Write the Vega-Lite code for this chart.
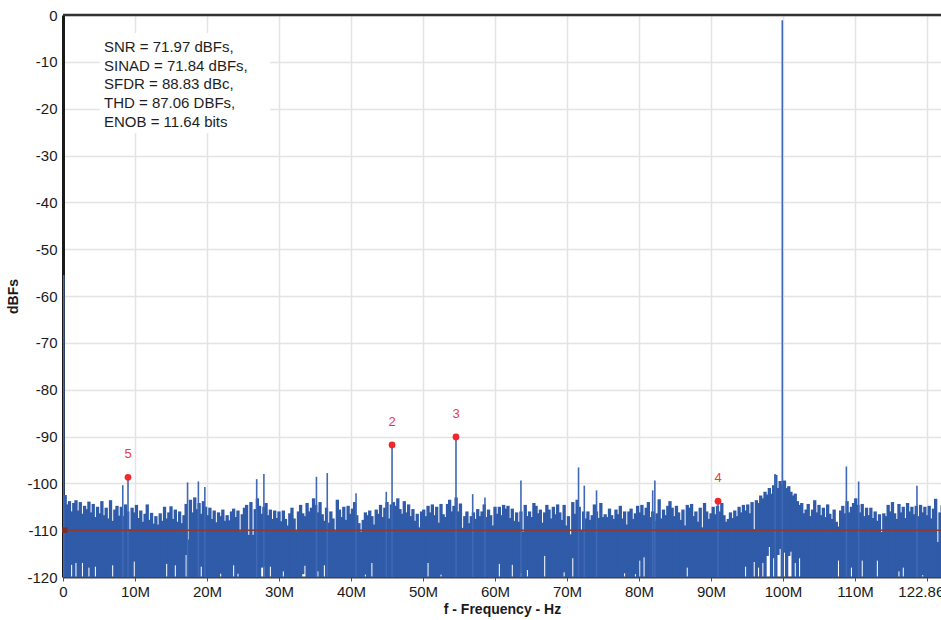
{
"$schema": "https://vega.github.io/schema/vega-lite/v6.json",
"width": 878, "height": 562,
"autosize": {"type": "none"},
"padding": {"left": 63, "top": 15, "right": 0, "bottom": 43},
"background": "white",
"config": {
  "font": "Liberation Sans",
  "view": {"stroke": null},
  "axis": {"gridColor": "#e4e4e4", "gridWidth": 1.5, "labelColor": "#1a1a1a", "titleColor": "#1a1a1a", "labelFont": "Liberation Sans", "titleFont": "Liberation Sans"}
},
"datasets": {
"noise": [
{"f":0.3,"v":-102.5,"lo":-120},{"f":0.6,"v":-104.5,"lo":-120},{"f":0.9,"v":-103.8,"lo":-120},{"f":1.2,"v":-106.0,"lo":-117.4},{"f":1.5,"v":-104.2,"lo":-120},{"f":1.8,"v":-103.6,"lo":-117.0},{"f":2.1,"v":-105.8,"lo":-120},{"f":2.4,"v":-104.0,"lo":-120},{"f":2.7,"v":-106.5,"lo":-117.0},{"f":3.0,"v":-104.8,"lo":-120},
{"f":3.3,"v":-105.5,"lo":-120},{"f":3.6,"v":-103.9,"lo":-118},{"f":3.9,"v":-106.2,"lo":-120},{"f":4.2,"v":-104.4,"lo":-120},{"f":4.5,"v":-107.2,"lo":-117.8},{"f":4.8,"v":-105.0,"lo":-120},{"f":5.1,"v":-106.4,"lo":-120},{"f":5.4,"v":-103.8,"lo":-120},{"f":5.7,"v":-106.8,"lo":-120},{"f":6.0,"v":-105.2,"lo":-120},
{"f":6.3,"v":-107.5,"lo":-120},{"f":6.6,"v":-103.6,"lo":-120},{"f":6.9,"v":-108.0,"lo":-117.5},{"f":7.2,"v":-105.6,"lo":-120},{"f":7.5,"v":-104.8,"lo":-120},{"f":7.8,"v":-106.9,"lo":-120},{"f":8.1,"v":-105.0,"lo":-120},{"f":8.4,"v":-107.0,"lo":-120},{"f":8.7,"v":-104.5,"lo":-120},{"f":9.0,"v":-106.0,"lo":-120},
{"f":9.3,"v":-109.8,"lo":-120},{"f":9.6,"v":-105.2,"lo":-120},{"f":9.9,"v":-106.2,"lo":-116.7},{"f":10.2,"v":-104.6,"lo":-120},{"f":10.5,"v":-107.4,"lo":-120},{"f":10.8,"v":-105.8,"lo":-120},{"f":11.1,"v":-108.2,"lo":-120},{"f":11.4,"v":-106.5,"lo":-120},{"f":11.7,"v":-104.5,"lo":-120},{"f":12.0,"v":-107.8,"lo":-120},
{"f":12.3,"v":-106.3,"lo":-120},{"f":12.6,"v":-108.6,"lo":-120},{"f":12.9,"v":-107.0,"lo":-120},{"f":13.2,"v":-108.8,"lo":-120},{"f":13.5,"v":-106.4,"lo":-120},{"f":13.8,"v":-108.0,"lo":-120},{"f":14.1,"v":-105.0,"lo":-120},{"f":14.4,"v":-107.5,"lo":-117.2},{"f":14.7,"v":-106.2,"lo":-120},{"f":15.0,"v":-104.9,"lo":-120},
{"f":15.3,"v":-107.6,"lo":-120},{"f":15.6,"v":-105.6,"lo":-117.5},{"f":15.9,"v":-108.2,"lo":-120},{"f":16.2,"v":-106.0,"lo":-120},{"f":16.5,"v":-108.5,"lo":-120},{"f":16.8,"v":-106.8,"lo":-120},{"f":17.1,"v":-104.4,"lo":-115.3},{"f":17.4,"v":-112.0,"lo":-120},{"f":17.7,"v":-103.5,"lo":-120},{"f":18.0,"v":-106.2,"lo":-120},
{"f":18.3,"v":-103.0,"lo":-120},{"f":18.6,"v":-105.5,"lo":-120},{"f":18.9,"v":-104.2,"lo":-120},{"f":19.2,"v":-106.5,"lo":-117.8},{"f":19.5,"v":-103.8,"lo":-120},{"f":19.8,"v":-105.0,"lo":-120},{"f":20.1,"v":-106.8,"lo":-120},{"f":20.4,"v":-105.2,"lo":-120},{"f":20.7,"v":-107.6,"lo":-120},{"f":21.0,"v":-105.8,"lo":-120},
{"f":21.3,"v":-108.3,"lo":-120},{"f":21.6,"v":-106.2,"lo":-120},{"f":21.9,"v":-107.0,"lo":-119.3},{"f":22.2,"v":-105.6,"lo":-120},{"f":22.5,"v":-108.0,"lo":-120},{"f":22.8,"v":-106.8,"lo":-120},{"f":23.1,"v":-107.9,"lo":-120},{"f":23.4,"v":-106.0,"lo":-120},{"f":23.7,"v":-105.4,"lo":-117.5},{"f":24.0,"v":-107.2,"lo":-120},
{"f":24.3,"v":-105.8,"lo":-119.3},{"f":24.6,"v":-110.2,"lo":-120},{"f":24.9,"v":-106.6,"lo":-120},{"f":25.2,"v":-105.2,"lo":-120},{"f":25.5,"v":-104.6,"lo":-120},{"f":25.8,"v":-111.0,"lo":-120},{"f":26.1,"v":-104.0,"lo":-120},{"f":26.4,"v":-111.0,"lo":-120},{"f":26.7,"v":-105.5,"lo":-120},{"f":27.0,"v":-103.2,"lo":-120},
{"f":27.3,"v":-104.8,"lo":-120},{"f":27.6,"v":-106.5,"lo":-118},{"f":27.9,"v":-105.0,"lo":-117.8},{"f":28.2,"v":-104.2,"lo":-120},{"f":28.5,"v":-106.8,"lo":-120},{"f":28.8,"v":-105.6,"lo":-117.8},{"f":29.1,"v":-107.6,"lo":-120},{"f":29.4,"v":-105.8,"lo":-120},{"f":29.7,"v":-107.4,"lo":-120},{"f":30.0,"v":-106.0,"lo":-120},
{"f":30.3,"v":-108.1,"lo":-120},{"f":30.6,"v":-105.8,"lo":-118.8},{"f":30.9,"v":-107.6,"lo":-120},{"f":31.2,"v":-109.0,"lo":-120},{"f":31.5,"v":-106.4,"lo":-120},{"f":31.8,"v":-105.2,"lo":-120},{"f":32.1,"v":-107.5,"lo":-120},{"f":32.4,"v":-110.2,"lo":-120},{"f":32.7,"v":-106.0,"lo":-120},{"f":33.0,"v":-104.6,"lo":-120},
{"f":33.3,"v":-106.4,"lo":-119.4},{"f":33.6,"v":-107.0,"lo":-117.6},{"f":33.9,"v":-104.2,"lo":-120},{"f":34.2,"v":-106.0,"lo":-120},{"f":34.5,"v":-105.2,"lo":-120},{"f":34.8,"v":-103.2,"lo":-120},{"f":35.1,"v":-104.6,"lo":-120},{"f":35.4,"v":-106.2,"lo":-118.8},{"f":35.7,"v":-104.0,"lo":-120},{"f":36.0,"v":-106.6,"lo":-120},
{"f":36.3,"v":-108.0,"lo":-117.5},{"f":36.6,"v":-105.2,"lo":-120},{"f":36.9,"v":-108.4,"lo":-120},{"f":37.2,"v":-106.0,"lo":-120},{"f":37.5,"v":-107.5,"lo":-120},{"f":37.8,"v":-110.2,"lo":-120},{"f":38.1,"v":-103.5,"lo":-120},{"f":38.4,"v":-105.6,"lo":-120},{"f":38.7,"v":-107.2,"lo":-120},{"f":39.0,"v":-105.0,"lo":-120},
{"f":39.3,"v":-107.8,"lo":-120},{"f":39.6,"v":-104.8,"lo":-120},{"f":39.9,"v":-106.5,"lo":-120},{"f":40.2,"v":-105.4,"lo":-120},{"f":40.5,"v":-104.0,"lo":-120},{"f":40.8,"v":-106.8,"lo":-120},{"f":41.1,"v":-108.5,"lo":-120},{"f":41.4,"v":-110.3,"lo":-120},{"f":41.7,"v":-107.8,"lo":-120},{"f":42.0,"v":-106.2,"lo":-119.5},
{"f":42.3,"v":-106.8,"lo":-120},{"f":42.6,"v":-105.8,"lo":-120},{"f":42.9,"v":-107.0,"lo":-117.0},{"f":43.2,"v":-108.8,"lo":-120},{"f":43.5,"v":-105.6,"lo":-120},{"f":43.8,"v":-106.5,"lo":-120},{"f":44.1,"v":-104.6,"lo":-120},{"f":44.4,"v":-107.2,"lo":-120},{"f":44.7,"v":-105.2,"lo":-120},{"f":45.0,"v":-104.0,"lo":-120},
{"f":45.3,"v":-107.5,"lo":-120},{"f":45.6,"v":-104.5,"lo":-120},{"f":45.9,"v":-104.0,"lo":-120},{"f":46.2,"v":-104.8,"lo":-120},{"f":46.5,"v":-103.2,"lo":-120},{"f":46.8,"v":-105.5,"lo":-120},{"f":47.1,"v":-106.5,"lo":-120},{"f":47.4,"v":-103.8,"lo":-120},{"f":47.7,"v":-106.2,"lo":-120},{"f":48.0,"v":-104.5,"lo":-120},
{"f":48.3,"v":-107.0,"lo":-120},{"f":48.6,"v":-105.5,"lo":-120},{"f":48.9,"v":-108.0,"lo":-120},{"f":49.2,"v":-106.5,"lo":-120},{"f":49.5,"v":-109.4,"lo":-120},{"f":49.8,"v":-106.0,"lo":-120},{"f":50.1,"v":-105.6,"lo":-120},{"f":50.4,"v":-107.0,"lo":-120},{"f":50.7,"v":-104.8,"lo":-117.0},{"f":51.0,"v":-106.2,"lo":-120},
{"f":51.3,"v":-104.5,"lo":-120},{"f":51.6,"v":-106.8,"lo":-120},{"f":51.9,"v":-105.0,"lo":-120},{"f":52.2,"v":-108.4,"lo":-120},{"f":52.5,"v":-104.4,"lo":-119.5},{"f":52.8,"v":-106.6,"lo":-120},{"f":53.1,"v":-107.2,"lo":-120},{"f":53.4,"v":-104.4,"lo":-120},{"f":53.7,"v":-103.5,"lo":-120},{"f":54.0,"v":-106.0,"lo":-120},
{"f":54.3,"v":-104.8,"lo":-120},{"f":54.6,"v":-103.0,"lo":-120},{"f":54.9,"v":-106.0,"lo":-120},{"f":55.2,"v":-104.3,"lo":-120},{"f":55.5,"v":-109.5,"lo":-120},{"f":55.8,"v":-107.0,"lo":-120},{"f":56.1,"v":-106.0,"lo":-120},{"f":56.4,"v":-108.5,"lo":-120},{"f":56.7,"v":-107.0,"lo":-120},{"f":57.0,"v":-106.2,"lo":-120},
{"f":57.3,"v":-107.6,"lo":-120},{"f":57.6,"v":-105.5,"lo":-120},{"f":57.9,"v":-107.0,"lo":-120},{"f":58.2,"v":-106.0,"lo":-120},{"f":58.5,"v":-104.5,"lo":-120},{"f":58.8,"v":-107.2,"lo":-120},{"f":59.1,"v":-105.6,"lo":-120},{"f":59.4,"v":-106.8,"lo":-120},{"f":59.7,"v":-109.0,"lo":-120},{"f":60.0,"v":-105.0,"lo":-120},
{"f":60.3,"v":-106.5,"lo":-120},{"f":60.6,"v":-105.0,"lo":-117.2},{"f":60.9,"v":-106.8,"lo":-120},{"f":61.2,"v":-104.6,"lo":-120},{"f":61.5,"v":-105.4,"lo":-120},{"f":61.8,"v":-104.8,"lo":-120},{"f":62.1,"v":-107.4,"lo":-120},{"f":62.4,"v":-105.4,"lo":-117.4},{"f":62.7,"v":-108.0,"lo":-120},{"f":63.0,"v":-106.2,"lo":-120},
{"f":63.3,"v":-108.2,"lo":-120},{"f":63.6,"v":-106.0,"lo":-119.2},{"f":63.9,"v":-110.3,"lo":-120},{"f":64.2,"v":-104.6,"lo":-120},{"f":64.5,"v":-107.0,"lo":-118.5},{"f":64.8,"v":-106.0,"lo":-120},{"f":65.1,"v":-107.2,"lo":-120},{"f":65.4,"v":-104.2,"lo":-120},{"f":65.7,"v":-104.8,"lo":-120},{"f":66.0,"v":-106.4,"lo":-120},
{"f":66.3,"v":-105.6,"lo":-120},{"f":66.6,"v":-108.4,"lo":-120},{"f":66.9,"v":-106.2,"lo":-115.5},{"f":67.2,"v":-104.6,"lo":-120},{"f":67.5,"v":-105.6,"lo":-120},{"f":67.8,"v":-107.5,"lo":-120},{"f":68.1,"v":-105.0,"lo":-120},{"f":68.4,"v":-106.6,"lo":-120},{"f":68.7,"v":-104.5,"lo":-120},{"f":69.0,"v":-106.2,"lo":-120},
{"f":69.3,"v":-107.8,"lo":-120},{"f":69.6,"v":-104.6,"lo":-119.0},{"f":69.9,"v":-109.0,"lo":-120},{"f":70.2,"v":-107.0,"lo":-120},{"f":70.5,"v":-110.9,"lo":-120},{"f":70.8,"v":-104.0,"lo":-116.0},{"f":71.1,"v":-106.5,"lo":-120},{"f":71.4,"v":-103.5,"lo":-120},{"f":71.7,"v":-105.0,"lo":-120},{"f":72.0,"v":-110.0,"lo":-120},
{"f":72.3,"v":-106.0,"lo":-120},{"f":72.6,"v":-107.5,"lo":-120},{"f":72.9,"v":-106.0,"lo":-120},{"f":73.2,"v":-107.8,"lo":-120},{"f":73.5,"v":-106.8,"lo":-120},{"f":73.8,"v":-104.5,"lo":-120},{"f":74.1,"v":-106.0,"lo":-120},{"f":74.4,"v":-107.4,"lo":-120},{"f":74.7,"v":-104.2,"lo":-120},{"f":75.0,"v":-107.2,"lo":-120},
{"f":75.3,"v":-106.6,"lo":-120},{"f":75.6,"v":-107.2,"lo":-120},{"f":75.9,"v":-105.4,"lo":-120},{"f":76.2,"v":-106.8,"lo":-120},{"f":76.5,"v":-107.6,"lo":-120},{"f":76.8,"v":-105.6,"lo":-120},{"f":77.1,"v":-106.6,"lo":-120},{"f":77.4,"v":-104.8,"lo":-120},{"f":77.7,"v":-107.5,"lo":-120},{"f":78.0,"v":-106.0,"lo":-119.2},
{"f":78.3,"v":-108.8,"lo":-120},{"f":78.6,"v":-106.0,"lo":-120},{"f":78.9,"v":-105.4,"lo":-120},{"f":79.2,"v":-107.6,"lo":-120},{"f":79.5,"v":-106.4,"lo":-119.4},{"f":79.8,"v":-104.8,"lo":-120},{"f":80.1,"v":-106.2,"lo":-116.5},{"f":80.4,"v":-104.6,"lo":-120},{"f":80.7,"v":-106.8,"lo":-115.8},{"f":81.0,"v":-105.2,"lo":-120},
{"f":81.3,"v":-104.0,"lo":-120},{"f":81.6,"v":-107.2,"lo":-120},{"f":81.9,"v":-106.0,"lo":-120},{"f":82.2,"v":-108.0,"lo":-120},{"f":82.5,"v":-106.4,"lo":-120},{"f":82.8,"v":-103.4,"lo":-120},{"f":83.1,"v":-107.5,"lo":-120},{"f":83.4,"v":-105.6,"lo":-120},{"f":83.7,"v":-106.8,"lo":-120},{"f":84.0,"v":-104.8,"lo":-120},
{"f":84.3,"v":-103.8,"lo":-120},{"f":84.6,"v":-105.2,"lo":-120},{"f":84.9,"v":-107.0,"lo":-120},{"f":85.2,"v":-104.8,"lo":-120},{"f":85.5,"v":-106.2,"lo":-120},{"f":85.8,"v":-107.8,"lo":-120},{"f":86.1,"v":-105.6,"lo":-120},{"f":86.4,"v":-109.0,"lo":-120},{"f":86.7,"v":-104.6,"lo":-118.0},{"f":87.0,"v":-105.2,"lo":-120},
{"f":87.3,"v":-104.4,"lo":-120},{"f":87.6,"v":-107.0,"lo":-120},{"f":87.9,"v":-106.0,"lo":-120},{"f":88.2,"v":-108.2,"lo":-120},{"f":88.5,"v":-105.2,"lo":-120},{"f":88.8,"v":-109.4,"lo":-120},{"f":89.1,"v":-104.2,"lo":-120},{"f":89.4,"v":-106.0,"lo":-120},{"f":89.7,"v":-107.6,"lo":-120},{"f":90.0,"v":-106.4,"lo":-120},
{"f":90.3,"v":-105.0,"lo":-120},{"f":90.6,"v":-106.6,"lo":-120},{"f":90.9,"v":-104.8,"lo":-120},{"f":91.2,"v":-106.0,"lo":-120},{"f":91.5,"v":-104.2,"lo":-120},{"f":91.8,"v":-106.8,"lo":-120},{"f":92.1,"v":-108.2,"lo":-120},{"f":92.4,"v":-107.6,"lo":-120},{"f":92.7,"v":-106.2,"lo":-120},{"f":93.0,"v":-107.4,"lo":-120},
{"f":93.3,"v":-105.8,"lo":-120},{"f":93.6,"v":-107.0,"lo":-120},{"f":93.9,"v":-105.0,"lo":-120},{"f":94.2,"v":-106.2,"lo":-120},{"f":94.5,"v":-104.6,"lo":-120},{"f":94.8,"v":-105.8,"lo":-117.8},{"f":95.1,"v":-104.5,"lo":-120},{"f":95.4,"v":-106.4,"lo":-120},{"f":95.7,"v":-104.0,"lo":-120},{"f":96.0,"v":-109.8,"lo":-116.8},
{"f":96.3,"v":-103.6,"lo":-120},{"f":96.6,"v":-104.2,"lo":-118},{"f":96.9,"v":-102.6,"lo":-120},{"f":97.2,"v":-103.2,"lo":-117.0},{"f":97.5,"v":-101.8,"lo":-120},{"f":97.8,"v":-102.4,"lo":-115.5},{"f":98.1,"v":-101.0,"lo":-113.6},{"f":98.4,"v":-102.2,"lo":-120},{"f":98.7,"v":-100.4,"lo":-116.0},{"f":99.0,"v":-98.2,"lo":-120},
{"f":99.3,"v":-101.0,"lo":-115.3},{"f":99.6,"v":-99.5,"lo":-114.0},{"f":99.9,"v":-100.2,"lo":-120},{"f":100.2,"v":-99.4,"lo":-114.8},{"f":100.5,"v":-101.0,"lo":-120},{"f":100.8,"v":-100.6,"lo":-115.5},{"f":101.1,"v":-101.8,"lo":-114.6},{"f":101.4,"v":-102.6,"lo":-120},{"f":101.7,"v":-102.2,"lo":-117.0},{"f":102.0,"v":-103.8,"lo":-120},
{"f":102.3,"v":-104.6,"lo":-116.0},{"f":102.6,"v":-104.2,"lo":-120},{"f":102.9,"v":-106.4,"lo":-120},{"f":103.2,"v":-105.6,"lo":-120},{"f":103.5,"v":-104.4,"lo":-120},{"f":103.8,"v":-107.0,"lo":-120},{"f":104.1,"v":-105.6,"lo":-120},{"f":104.4,"v":-103.6,"lo":-120},{"f":104.7,"v":-106.2,"lo":-120},{"f":105.0,"v":-104.6,"lo":-120},
{"f":105.3,"v":-106.8,"lo":-120},{"f":105.6,"v":-105.2,"lo":-120},{"f":105.9,"v":-107.2,"lo":-120},{"f":106.2,"v":-104.5,"lo":-120},{"f":106.5,"v":-106.5,"lo":-120},{"f":106.8,"v":-107.6,"lo":-120},{"f":107.1,"v":-105.6,"lo":-120},{"f":107.4,"v":-108.2,"lo":-120},{"f":107.7,"v":-109.2,"lo":-116.5},{"f":108.0,"v":-105.8,"lo":-120},
{"f":108.3,"v":-104.8,"lo":-120},{"f":108.6,"v":-106.4,"lo":-120},{"f":108.9,"v":-103.8,"lo":-120},{"f":109.2,"v":-106.2,"lo":-120},{"f":109.5,"v":-105.0,"lo":-118.0},{"f":109.8,"v":-104.2,"lo":-120},{"f":110.1,"v":-103.2,"lo":-120},{"f":110.4,"v":-104.6,"lo":-120},{"f":110.7,"v":-106.2,"lo":-120},{"f":111.0,"v":-104.4,"lo":-116.5},
{"f":111.3,"v":-107.0,"lo":-120},{"f":111.6,"v":-105.2,"lo":-120},{"f":111.9,"v":-106.8,"lo":-120},{"f":112.2,"v":-105.2,"lo":-120},{"f":112.5,"v":-107.4,"lo":-120},{"f":112.8,"v":-106.0,"lo":-120},{"f":113.1,"v":-108.0,"lo":-116.5},{"f":113.4,"v":-106.6,"lo":-120},{"f":113.7,"v":-110.4,"lo":-120},{"f":114.0,"v":-106.4,"lo":-120},
{"f":114.3,"v":-107.0,"lo":-120},{"f":114.6,"v":-104.6,"lo":-120},{"f":114.9,"v":-106.0,"lo":-120},{"f":115.2,"v":-104.0,"lo":-120},{"f":115.5,"v":-106.4,"lo":-120},{"f":115.8,"v":-107.6,"lo":-120},{"f":116.1,"v":-104.4,"lo":-118.8},{"f":116.4,"v":-106.2,"lo":-120},{"f":116.7,"v":-105.0,"lo":-118.0},{"f":117.0,"v":-107.4,"lo":-120},
{"f":117.3,"v":-104.2,"lo":-120},{"f":117.6,"v":-106.0,"lo":-120},{"f":117.9,"v":-105.0,"lo":-120},{"f":118.2,"v":-106.6,"lo":-120},{"f":118.5,"v":-104.8,"lo":-120},{"f":118.8,"v":-107.0,"lo":-120},{"f":119.1,"v":-104.6,"lo":-120},{"f":119.4,"v":-106.2,"lo":-119.6},{"f":119.7,"v":-105.0,"lo":-120},{"f":120.0,"v":-106.8,"lo":-120},
{"f":120.3,"v":-104.8,"lo":-120},{"f":120.6,"v":-107.5,"lo":-120},{"f":120.9,"v":-105.4,"lo":-120},{"f":121.2,"v":-103.3,"lo":-120},{"f":121.5,"v":-112.5,"lo":-120},{"f":121.8,"v":-106.2,"lo":-120},{"f":122.1,"v":-104.6,"lo":-120}
],
"spurs": [
{"f":0.1,"v":-55.5},{"f":8.3,"v":-100.4},{"f":17.3,"v":-99.8},{"f":18.8,"v":-99.6},{"f":19.7,"v":-100.8},{"f":26.9,"v":-99.1},{"f":27.9,"v":-98.0},{"f":35.2,"v":-98.6},{"f":36.7,"v":-97.8},{"f":40.7,"v":-102.1},{"f":44.9,"v":-101.8},{"f":56.9,"v":-102.3},{"f":58.6,"v":-103.0},{"f":63.6,"v":-99.4},{"f":71.6,"v":-96.6},{"f":72.4,"v":-100.5},{"f":74.1,"v":-101.5},{"f":81.9,"v":-101.5},{"f":82.2,"v":-99.4},{"f":98.9,"v":-98.0},{"f":99.9,"v":-1.1},{"f":108.8,"v":-96.4},{"f":110.5,"v":-99.6},{"f":118.6,"v":-100.5}
],
"harm": [
{"h":"2","f":45.7,"v":-91.8},{"h":"3","f":54.58,"v":-90.1},{"h":"4","f":90.97,"v":-103.8},{"h":"5","f":9.03,"v":-98.7}
]
},
"layer": [
{"data": {"name": "noise"},
 "mark": {"type": "rule", "color": "#2f5ba8", "strokeWidth": 3.3, "clip": true},
 "encoding": {
   "x": {"field": "f", "type": "quantitative", "scale": {"domain": [0, 121.94], "nice": false, "zero": false},
     "axis": {"values": [0,10,20,30,40,50,60,70,80,90,100,110,120], "labelExpr": "datum.value == 0 ? '0' : datum.value == 120 ? '122.86M' : datum.value + 'M'", "title": "f - Frequency - Hz", "titleFontSize": 14, "titleFontWeight": "bold", "labelFontSize": 15, "tickSize": 4, "tickColor": "#555", "domainColor": "#444", "domainWidth": 2, "labelPadding": 3, "titlePadding": 3, "grid": true, "labelFlush": false, "labelOverlap": false}},
   "y": {"field": "v", "type": "quantitative", "scale": {"domain": [-120, 0], "nice": false, "zero": false},
     "axis": {"values": [0,-10,-20,-30,-40,-50,-60,-70,-80,-90,-100,-110,-120], "labelExpr": "datum.value == 0 ? '0' : '-' + abs(datum.value)", "title": "dBFs", "titleFontSize": 14, "titleFontWeight": "bold", "labelFontSize": 15, "tickSize": 0, "labelPadding": 6, "titlePadding": 6, "domainColor": "#1a1a1a", "domainWidth": 3, "grid": true}},
   "y2": {"field": "lo"}
 }},
{"data": {"name": "spurs"},
 "mark": {"type": "rule", "color": "#3f68b5", "strokeWidth": 1.6, "clip": true},
 "encoding": {
   "x": {"field": "f", "type": "quantitative"},
   "y": {"field": "v", "type": "quantitative"},
   "y2": {"datum": -120}
 }},
{"data": {"name": "harm"},
 "mark": {"type": "rule", "color": "#3f68b5", "strokeWidth": 1.6, "clip": true},
 "encoding": {
   "x": {"field": "f", "type": "quantitative"},
   "y": {"field": "v", "type": "quantitative"},
   "y2": {"datum": -120}
 }},
{"data": {"values": [{}]},
 "mark": {"type": "rule", "color": "#8b3b35", "strokeWidth": 1.5},
 "encoding": {"y": {"datum": -110, "type": "quantitative"}}},
{"data": {"values": [{}]},
 "mark": {"type": "point", "shape": "square", "filled": true, "color": "#7b2f2a", "size": 30, "opacity": 1},
 "encoding": {"x": {"datum": 0.25, "type": "quantitative"}, "y": {"datum": -110, "type": "quantitative"}}},
{"data": {"values": [{}]},
 "mark": {"type": "rule", "color": "#333333", "strokeWidth": 2.5},
 "encoding": {"y": {"datum": 0, "type": "quantitative"}}},
{"data": {"name": "harm"},
 "mark": {"type": "point", "filled": true, "color": "#f2262b", "size": 45, "opacity": 1},
 "encoding": {
   "x": {"field": "f", "type": "quantitative"},
   "y": {"field": "v", "type": "quantitative"}
 }},
{"data": {"name": "harm"},
 "mark": {"type": "text", "color": "#f03a3a", "fontSize": 13, "dy": -23, "baseline": "middle", "align": "center"},
 "encoding": {
   "x": {"field": "f", "type": "quantitative"},
   "y": {"field": "v", "type": "quantitative"},
   "text": {"field": "h"}
 }},
{"data": {"values": [{}]},
 "mark": {"type": "rect", "color": "white", "opacity": 1},
 "encoding": {
   "x": {"datum": 5.1, "type": "quantitative"}, "x2": {"datum": 28.75},
   "y": {"datum": -3.84, "type": "quantitative"}, "y2": {"datum": -25.2}
 }},
{"data": {"values": [{}]},
 "mark": {"type": "text", "align": "left", "baseline": "top", "fontSize": 15, "lineHeight": 18.6, "color": "#1e1e1e",
   "text": ["SNR = 71.97 dBFs,", "SINAD = 71.84 dBFs,", "SFDR = 88.83 dBc,", "THD = 87.06 DBFs,", "ENOB = 11.64 bits"]},
 "encoding": {
   "x": {"datum": 5.69, "type": "quantitative"},
   "y": {"datum": -5.4, "type": "quantitative"}
 }}
]
}
